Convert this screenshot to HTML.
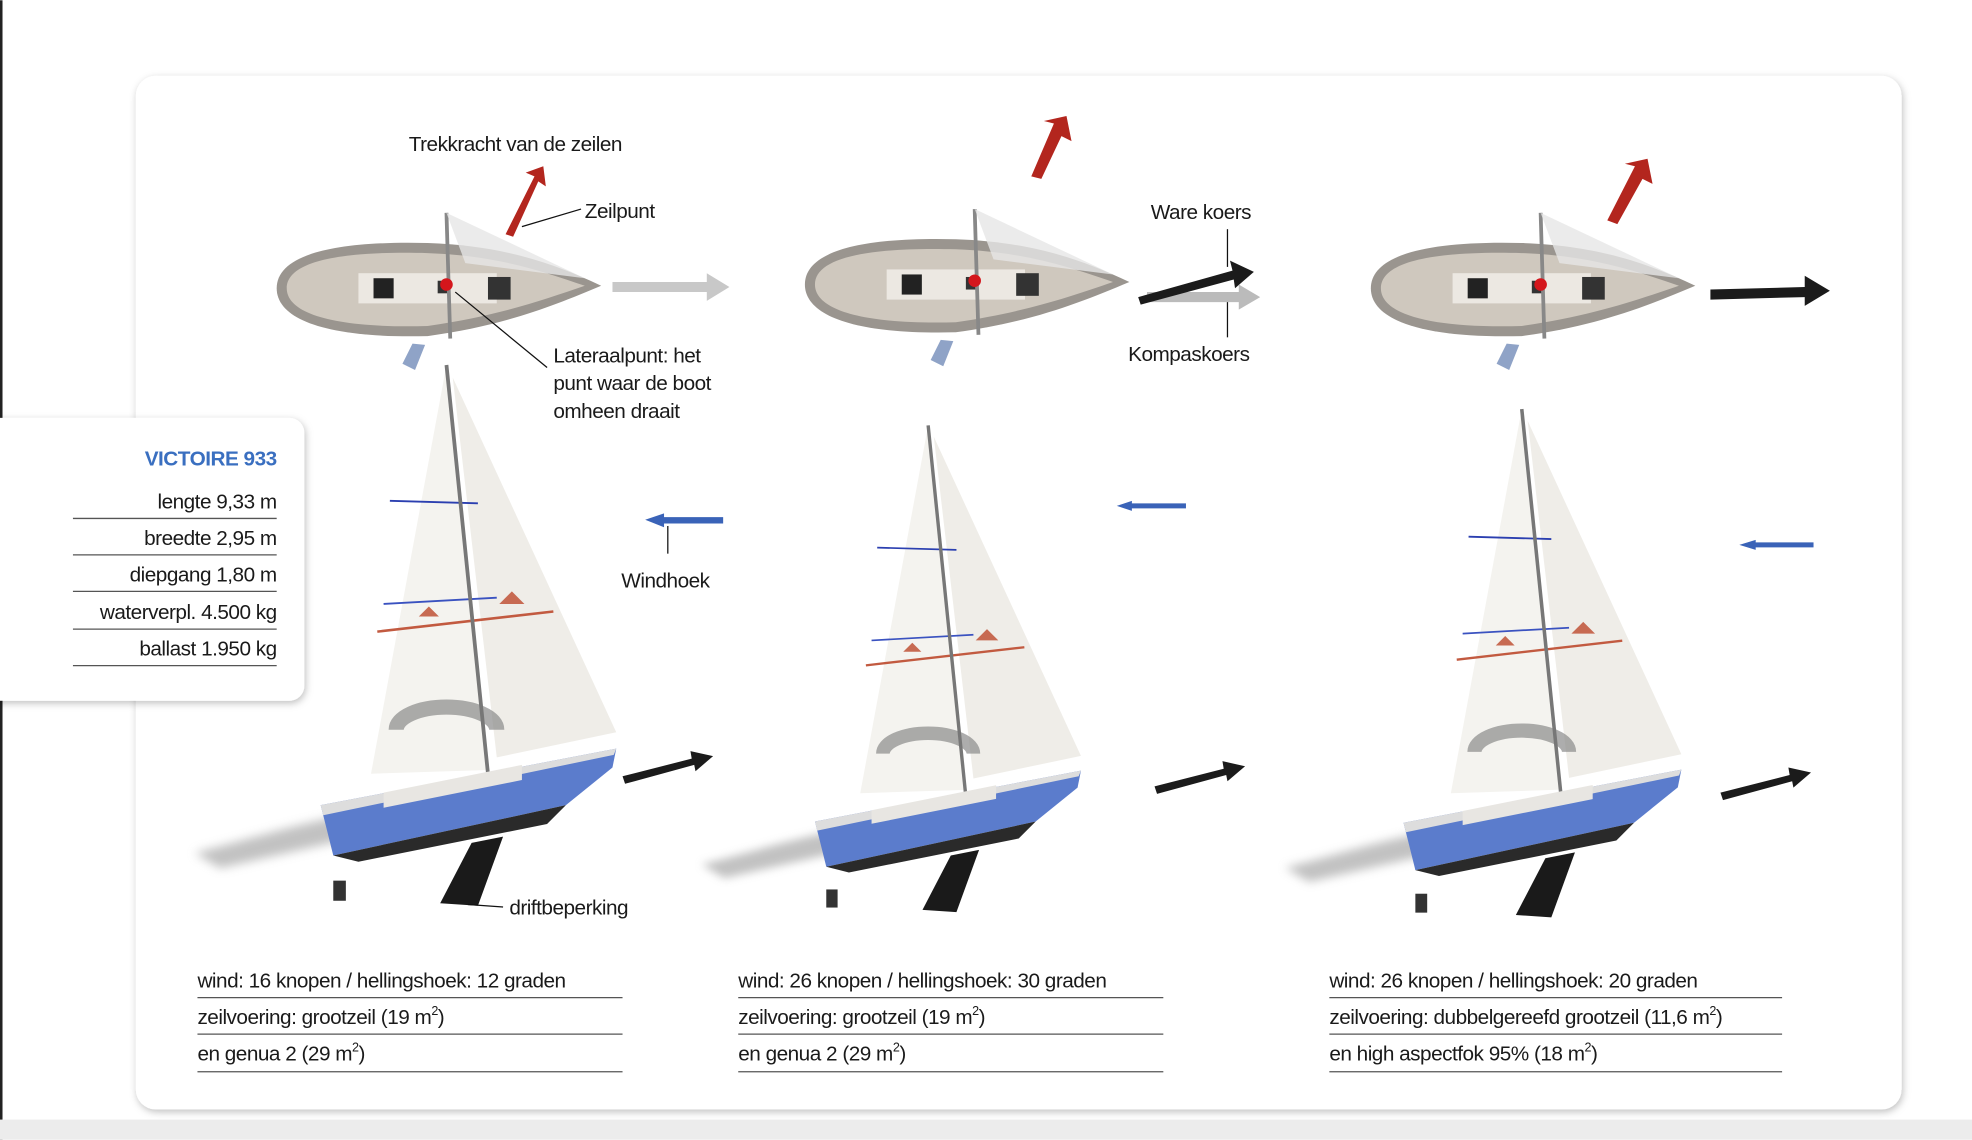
<!DOCTYPE html>
<html><head><meta charset="utf-8"><style>
html,body{margin:0;padding:0;background:#fff}
svg{display:block}
text{font-family:"Liberation Sans",sans-serif;fill:#1a1a1a;letter-spacing:-0.4px}
</style></head><body>
<svg width="1972" height="1140" viewBox="0 0 1568 906" xmlns="http://www.w3.org/2000/svg">
<defs>
<filter id="sh" x="-5%" y="-5%" width="110%" height="110%"><feDropShadow dx="1" dy="2" stdDeviation="3" flood-color="#000" flood-opacity="0.25"/></filter>
<filter id="bl" x="-50%" y="-50%" width="200%" height="200%"><feGaussianBlur stdDeviation="4"/></filter>
<g id="top">
  <path d="M0,0 C0,-25 40,-38 120,-36 C180,-34 220,-20 258,-2 C220,14 180,30 120,38 C40,40 0,25 0,0Z" fill="#9a958f"/>
  <path d="M8,0 C8,-20 45,-30 120,-28 C175,-26 210,-14 245,-2 C210,10 175,22 120,30 C45,32 8,20 8,0Z" fill="#cfc8be"/>
  <rect x="65" y="-12" width="110" height="24" fill="#ece8e2"/>
  <rect x="77" y="-8" width="16" height="16" fill="#222"/>
  <rect x="168" y="-9" width="18" height="18" fill="#333"/>
  <rect x="128" y="-6" width="8" height="10" fill="#333"/>
  <line x1="135" y1="-60" x2="138" y2="40" stroke="#888" stroke-width="3"/>
  <path d="M135,-60 L245,-8 L150,-20Z" fill="#e6e6e6" opacity="0.8"/>
  <circle cx="135" cy="-3" r="5" fill="#d4161c"/>
  <path d="M118,45 L110,65 L100,60 L108,44Z" fill="#8fa3c7"/>
</g>
<g id="side">
  <path d="M-200,388 C-160,378 -120,365 -80,358 L-70,375 L-180,400 Z" fill="#999" opacity="0.6" filter="url(#bl)"/>
  <path d="M0,0 L33,322 L-60,325Z" fill="#f4f3ef"/>
  <path d="M5,10 L135,292 L40,312Z" fill="#efede8"/>
  <line x1="-45" y1="108" x2="25" y2="110" stroke="#2b3fb0" stroke-width="1.5"/>
  <line x1="-50" y1="190" x2="40" y2="185" stroke="#3a52c0" stroke-width="1.5"/>
  <line x1="-55" y1="212" x2="85" y2="196" stroke="#c25a40" stroke-width="2"/>
  <path d="M-22,200 L-14,192 L-6,200Z" fill="#c76a52"/>
  <path d="M42,190 L52,180 L62,190Z" fill="#c76a52"/>
  <path d="M-40,290 A40,18 0 1 1 40,290" fill="none" stroke="#8a8a8a" stroke-width="12" opacity="0.7"/>
  <line x1="0" y1="0" x2="33" y2="325" stroke="#777" stroke-width="3"/>
  <path d="M-100,350 L135,305 L132,320 L95,350 L-90,390Z" fill="#5b7ccc"/>
  <path d="M-100,350 L135,305 L133,310 L-98,358Z" fill="#ddd"/>
  <path d="M-50,340 L60,318 L60,330 L-50,352Z" fill="#e8e6e2"/>
  <path d="M-90,390 L95,350 L80,365 L-70,395Z" fill="#2a2a2a"/>
  <path d="M20,380 L45,375 L25,430 L-5,428Z" fill="#1a1a1a"/>
  <rect x="-90" y="410" width="10" height="16" fill="#333"/>
</g>
<g id="sarrow"><path d="M0,0 L55,-14 L54,-20 L72,-16 L58,-4 L57,-9 L2,6Z" fill="#1b1b1b"/></g>
</defs>
<rect x="0" y="0" width="2" height="906" fill="#222"/>
<rect x="0" y="890" width="1568" height="16" fill="#ececec"/>
<rect x="108" y="60" width="1404" height="822" rx="16" fill="#fff" filter="url(#sh)"/>

<use href="#top" transform="translate(220,229)"/>
<use href="#top" transform="translate(640,226)"/>
<use href="#top" transform="translate(1090,229)"/>
<path d="M402,186 L425,140 L418,137 L432,132 L434,148 L428,144 L408,188Z" fill="#b3261e"/>
<path d="M820,140 L838,98 L830,96 L848,92 L852,112 L844,108 L828,142Z" fill="#b3261e"/>
<path d="M1278,175 L1300,132 L1292,130 L1310,126 L1314,146 L1306,142 L1286,178Z" fill="#b3261e"/>
<path d="M487,224 L562,224 L562,217 L580,228 L562,239 L562,232 L487,232Z" fill="#c8c8c8"/>
<path d="M912,232 L985,232 L985,226 L1002,236 L985,246 L985,240 L912,240Z" fill="#aaa" opacity="0.8"/>
<path d="M905,236 L980,215 L978,207 L997,216 L982,229 L981,222 L907,242Z" fill="#1b1b1b"/>
<path d="M1360,230 L1435,228 L1435,219 L1455,231 L1435,243 L1435,236 L1360,238Z" fill="#1b1b1b"/>

<use href="#side" transform="translate(355,290)"/>
<use href="#side" transform="translate(738,338) scale(0.9)"/>
<use href="#side" transform="translate(1210,325) scale(0.94)"/>
<use href="#sarrow" transform="translate(495,617)"/>
<use href="#sarrow" transform="translate(918,625)"/>
<use href="#sarrow" transform="translate(1368,630)"/>
<path d="M513,413 L528,408 L528,411 L575,411 L575,416 L528,416 L528,419Z" fill="#3a63b8"/>
<path d="M888,402 L900,398 L900,400 L943,400 L943,404 L900,404 L900,406Z" fill="#3a63b8"/>
<path d="M1383,433 L1396,429 L1396,431 L1442,431 L1442,435 L1396,435 L1396,437Z" fill="#3a63b8"/>

<g stroke="#111" stroke-width="1" fill="none">
<line x1="415" y1="180" x2="462" y2="166"/>
<line x1="362" y1="232" x2="435" y2="292"/>
<line x1="531" y1="418" x2="531" y2="440"/>
<line x1="372" y1="719" x2="400" y2="721"/>
<line x1="976" y1="182" x2="976" y2="212"/>
<line x1="976" y1="240" x2="976" y2="268"/>
</g>
<g font-size="16.5">
<text x="325" y="120">Trekkracht van de zeilen</text>
<text x="465" y="173">Zeilpunt</text>
<text x="440" y="288">Lateraalpunt: het</text>
<text x="440" y="310">punt waar de boot</text>
<text x="440" y="332">omheen draait</text>
<text x="494" y="467">Windhoek</text>
<text x="405" y="727">driftbeperking</text>
<text x="915" y="174">Ware koers</text>
<text x="897" y="287">Kompaskoers</text>
</g>

<rect x="-20" y="332" width="262" height="225" rx="12" fill="#fff" filter="url(#sh)"/>
<g font-size="16.5" text-anchor="end">
<text x="220" y="370" style="fill:#3a6fc0;font-weight:bold">VICTOIRE 933</text>
<text x="220" y="404">lengte 9,33 m</text>
<text x="220" y="433">breedte 2,95 m</text>
<text x="220" y="462">diepgang 1,80 m</text>
<text x="220" y="492">waterverpl. 4.500 kg</text>
<text x="220" y="521">ballast 1.950 kg</text>
</g>
<g stroke="#555" stroke-width="1">
<line x1="58" y1="412" x2="220" y2="412"/><line x1="58" y1="441" x2="220" y2="441"/>
<line x1="58" y1="470" x2="220" y2="470"/><line x1="58" y1="500" x2="220" y2="500"/>
<line x1="58" y1="529" x2="220" y2="529"/>
<line x1="157" y1="793" x2="495" y2="793"/><line x1="157" y1="822" x2="495" y2="822"/><line x1="157" y1="852" x2="495" y2="852"/>
<line x1="587" y1="793" x2="925" y2="793"/><line x1="587" y1="822" x2="925" y2="822"/><line x1="587" y1="852" x2="925" y2="852"/>
<line x1="1057" y1="793" x2="1417" y2="793"/><line x1="1057" y1="822" x2="1417" y2="822"/><line x1="1057" y1="852" x2="1417" y2="852"/>
</g>
<g font-size="16.5">
<text x="157" y="785">wind: 16 knopen / hellingshoek: 12 graden</text>
<text x="157" y="814">zeilvoering: grootzeil (19 m<tspan font-size="10" dy="-7">2</tspan><tspan dy="7">)</tspan></text>
<text x="157" y="843">en genua 2 (29 m<tspan font-size="10" dy="-7">2</tspan><tspan dy="7">)</tspan></text>
<text x="587" y="785">wind: 26 knopen / hellingshoek: 30 graden</text>
<text x="587" y="814">zeilvoering: grootzeil (19 m<tspan font-size="10" dy="-7">2</tspan><tspan dy="7">)</tspan></text>
<text x="587" y="843">en genua 2 (29 m<tspan font-size="10" dy="-7">2</tspan><tspan dy="7">)</tspan></text>
<text x="1057" y="785">wind: 26 knopen / hellingshoek: 20 graden</text>
<text x="1057" y="814">zeilvoering: dubbelgereefd grootzeil (11,6 m<tspan font-size="10" dy="-7">2</tspan><tspan dy="7">)</tspan></text>
<text x="1057" y="843">en high aspectfok 95% (18 m<tspan font-size="10" dy="-7">2</tspan><tspan dy="7">)</tspan></text>
</g>
</svg>
</body></html>
